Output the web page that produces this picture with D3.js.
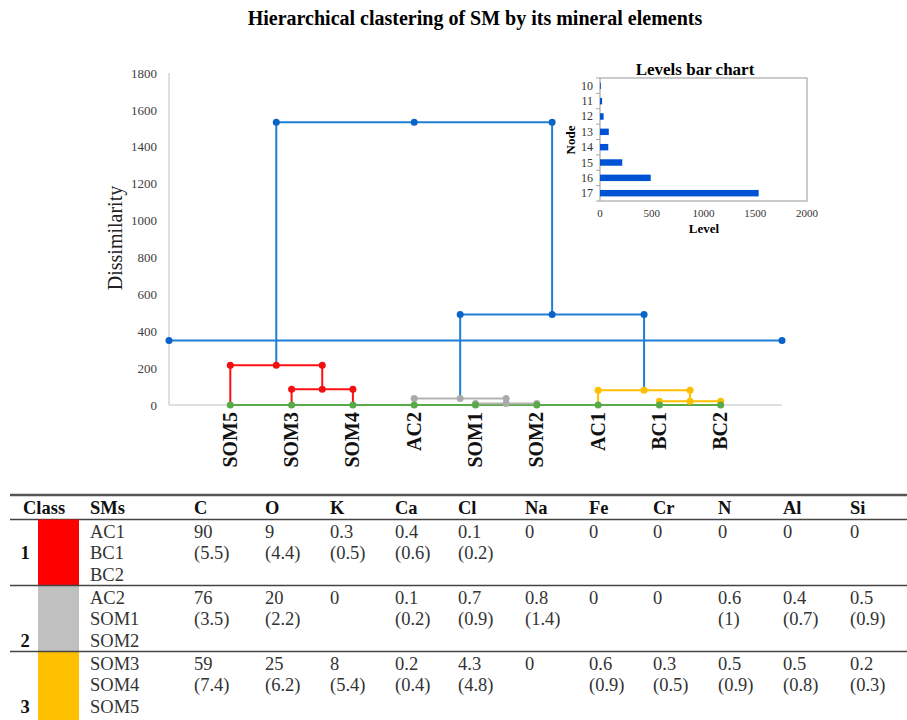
<!DOCTYPE html>
<html>
<head>
<meta charset="utf-8">
<script src="https://cdn.jsdelivr.net/npm/d3@7"></script>
<style>
  body { margin: 0; background: #fff; }
  svg { font-family: "Liberation Serif", "Times New Roman", serif; }
</style>
</head>
<body>
<svg width="907" height="720"></svg>
<script>
// leaves of the dendrogram, left to right
const leaves = ["SOM5", "SOM3", "SOM4", "AC2", "SOM1", "SOM2", "AC1", "BC1", "BC2"];
// merge nodes (id, level, children, colour group)
const nodeIds = [10, 11, 12, 13, 14, 15, 16, 17];
const nodeLevels = [8, 20, 35, 85, 80, 215, 490, 1533];
const nodeChildren = [["SOM1", "SOM2"], ["BC1", "BC2"], ["AC2", 10], ["SOM3", "SOM4"],
                      ["AC1", 11], ["SOM5", 13], [12, 14], [15, 16]];
const nodeGroups = ["gray", "yellow", "gray", "red", "yellow", "red", "blue", "blue"];
const cutLevel = 350;
const yTicks = [0, 200, 400, 600, 800, 1000, 1200, 1400, 1600, 1800];
const levelTicks = [0, 500, 1000, 1500, 2000];

// table
const tableHeaders = ["Class", "SMs", "C", "O", "K", "Ca", "Cl", "Na", "Fe", "Cr", "N", "Al", "Si"];
const classIds = ["1", "2", "3"];
const classMembers = [["AC1", "BC1", "BC2"], ["AC2", "SOM1", "SOM2"], ["SOM3", "SOM4", "SOM5"]];
const classMeans = [
  ["90", "9", "0.3", "0.4", "0.1", "0", "0", "0", "0", "0", "0"],
  ["76", "20", "0", "0.1", "0.7", "0.8", "0", "0", "0.6", "0.4", "0.5"],
  ["59", "25", "8", "0.2", "4.3", "0", "0.6", "0.3", "0.5", "0.5", "0.2"]
];
const classSds = [
  ["5.5", "4.4", "0.5", "0.6", "0.2", "", "", "", "", "", ""],
  ["3.5", "2.2", "", "0.2", "0.9", "1.4", "", "", "1", "0.7", "0.9"],
  ["7.4", "6.2", "5.4", "0.4", "4.8", "", "0.9", "0.5", "0.9", "0.8", "0.3"]
];

const lineColor = {blue: "#1f7fd6", red: "#ff1010", gray: "#b4b4b4", yellow: "#ffc000"};
const dotColor = {blue: "#0a63c6", red: "#f01010", gray: "#aaaaaa", yellow: "#ffbe00"};
const classColors = ["#ff0000", "#c0c0c0", "#ffc000"];
const green = "#58aa48";

const svg = d3.select("svg");

// title
svg.append("text")
  .attr("x", 475).attr("y", 25)
  .attr("text-anchor", "middle")
  .attr("font-size", "20px").attr("font-weight", "bold")
  .text("Hierarchical clastering of SM by its mineral elements");

//dendrogram
const x = d3.scaleLinear().domain([0, 10]).range([169, 782]);
const y = d3.scaleLinear().domain([0, 1800]).range([405, 73]);

const g1 = svg.append("g");

// axis lines + labels
g1.append("line")
  .attr("x1", x(0)).attr("x2", x(0))
  .attr("y1", y(0)).attr("y2", y(1800))
  .attr("stroke", "#d4d4d4").attr("stroke-width", 1.5);
g1.append("line")
  .attr("x1", x(0)).attr("x2", x(10))
  .attr("y1", y(0)).attr("y2", y(0))
  .attr("stroke", "#d4d4d4").attr("stroke-width", 1.5);

const yAxis = g1.append("g")
  .attr("transform", `translate(${x(0)},0)`)
  .call(d3.axisLeft(y).tickValues(yTicks).tickFormat(d3.format("d")).tickSize(0).tickPadding(12));
yAxis.select(".domain").remove();
yAxis.selectAll("text")
  .attr("font-family", "Liberation Serif")
  .attr("font-size", "13px")
  .attr("fill", "#404040");

g1.append("text")
  .attr("transform", "translate(122,238) rotate(-90)")
  .attr("text-anchor", "middle")
  .attr("font-size", "20px")
  .attr("fill", "#222")
  .text("Dissimilarity");

// node positions
const pos = {};
leaves.forEach((l, i) => { pos[l] = {x: x(i + 1), h: 0}; });
nodeIds.forEach((id, i) => {
  const a = pos[nodeChildren[i][0]], b = pos[nodeChildren[i][1]];
  pos[id] = {x: (a.x + b.x) / 2, h: nodeLevels[i]};
});

// green baseline
g1.append("line")
  .attr("x1", pos[leaves[0]].x).attr("x2", pos[leaves[leaves.length - 1]].x)
  .attr("y1", y(0)).attr("y2", y(0))
  .attr("stroke", green).attr("stroke-width", 2);

// links
nodeIds.forEach((id, i) => {
  const a = pos[nodeChildren[i][0]], b = pos[nodeChildren[i][1]];
  const h = y(nodeLevels[i]);
  g1.append("path")
    .attr("d", `M${a.x},${y(a.h)}V${h}H${b.x}V${y(b.h)}`)
    .attr("fill", "none")
    .attr("stroke", lineColor[nodeGroups[i]])
    .attr("stroke-width", 2);
});

// cut line
g1.append("line")
  .attr("x1", x(0)).attr("x2", x(10))
  .attr("y1", y(cutLevel)).attr("y2", y(cutLevel))
  .attr("stroke", lineColor.blue).attr("stroke-width", 2);
[x(0), x(10)].forEach(cx => {
  g1.append("circle").attr("cx", cx).attr("cy", y(cutLevel)).attr("r", 3.5).attr("fill", dotColor.blue);
});

// node dots
nodeIds.forEach((id, i) => {
  const a = pos[nodeChildren[i][0]], b = pos[nodeChildren[i][1]];
  [a.x, pos[id].x, b.x].forEach(cx => {
    g1.append("circle")
      .attr("cx", cx).attr("cy", y(nodeLevels[i])).attr("r", 3.5)
      .attr("fill", dotColor[nodeGroups[i]]);
  });
});

// leaf dots + labels
leaves.forEach(l => {
  g1.append("circle").attr("cx", pos[l].x).attr("cy", y(0)).attr("r", 3.5).attr("fill", green);
  g1.append("text")
    .attr("transform", `translate(${pos[l].x + 6.5},412) rotate(-90)`)
    .attr("text-anchor", "end")
    .attr("font-size", "20px").attr("font-weight", "bold")
    .attr("fill", "#111")
    .text(l);
});

//inset bar chart
const bx = d3.scaleLinear().domain([0, 2000]).range([600, 807]);
const by = d3.scaleBand().domain(nodeIds).range([78, 201]).paddingInner(0.58).paddingOuter(0.3);
const g2 = svg.append("g");

g2.append("rect")
  .attr("x", 600).attr("y", 78).attr("width", 207).attr("height", 123)
  .attr("fill", "#fff").attr("stroke", "#a8a8a8").attr("stroke-width", 1.2);

const step = 123 / nodeIds.length;
d3.range(nodeIds.length + 1).forEach(k => {
  g2.append("line")
    .attr("x1", 596).attr("x2", 600)
    .attr("y1", 78 + k * step).attr("y2", 78 + k * step)
    .attr("stroke", "#a8a8a8");
});

g2.selectAll(".bar").data(nodeIds).enter().append("rect")
  .attr("x", bx(0))
  .attr("y", d => by(d))
  .attr("width", (d, i) => bx(nodeLevels[i]) - bx(0))
  .attr("height", by.bandwidth())
  .attr("fill", "#0052d4");

g2.selectAll(".ylab").data(nodeIds).enter().append("text")
  .attr("x", 593)
  .attr("y", d => by(d) + by.bandwidth() / 2 + 4)
  .attr("text-anchor", "end")
  .attr("font-size", "12px").attr("fill", "#333")
  .text(d => d);

g2.selectAll(".xlab").data(levelTicks).enter().append("text")
  .attr("x", d => bx(d))
  .attr("y", 217)
  .attr("text-anchor", "middle")
  .attr("font-size", "11px").attr("fill", "#333")
  .text(d => d);

g2.append("text")
  .attr("x", 695).attr("y", 75)
  .attr("text-anchor", "middle")
  .attr("font-size", "17px").attr("font-weight", "bold")
  .text("Levels bar chart");
g2.append("text")
  .attr("x", 704).attr("y", 233)
  .attr("text-anchor", "middle")
  .attr("font-size", "13px").attr("font-weight", "bold")
  .text("Level");
g2.append("text")
  .attr("transform", "translate(575,140) rotate(-90)")
  .attr("text-anchor", "middle")
  .attr("font-size", "13px").attr("font-weight", "bold")
  .text("Node");

//table
const colX = [23, 90, 194, 265, 330, 395, 458, 525, 589, 653, 718, 783, 850];
const rowTop = [519.5, 585.5, 651.5];
const firstLine = 18.5, lineGap = 21.3;
const g3 = svg.append("g").attr("font-size", "18.5px");

g3.append("line").attr("x1", 10).attr("x2", 907).attr("y1", 495).attr("y2", 495)
  .attr("stroke", "#555").attr("stroke-width", 2.5);
g3.append("line").attr("x1", 10).attr("x2", 907).attr("y1", 519.5).attr("y2", 519.5)
  .attr("stroke", "#444").attr("stroke-width", 1.5);

tableHeaders.forEach((h, j) => {
  g3.append("text").attr("x", colX[j]).attr("y", 514)
    .attr("font-weight", "bold").attr("fill", "#111").text(h);
});

classIds.forEach((c, i) => {
  const top = rowTop[i];
  const bottom = i < classIds.length - 1 ? rowTop[i + 1] : 730;
  g3.append("rect")
    .attr("x", 38).attr("y", top).attr("width", 41).attr("height", bottom - top)
    .attr("fill", classColors[i]);
  if (i > 0) {
    g3.append("line").attr("x1", 10).attr("x2", 907).attr("y1", top).attr("y2", top)
      .attr("stroke", "#444").attr("stroke-width", 1.5);
  }
  const numLine = i === 0 ? 1 : 2;
  g3.append("text")
    .attr("x", 25).attr("y", top + firstLine + numLine * lineGap)
    .attr("text-anchor", "middle")
    .attr("font-weight", "bold").attr("fill", "#111")
    .text(c);
  classMembers[i].forEach((m, k) => {
    g3.append("text").attr("x", colX[1]).attr("y", top + firstLine + k * lineGap)
      .attr("fill", "#333").text(m);
  });
  classMeans[i].forEach((v, j) => {
    g3.append("text").attr("x", colX[j + 2]).attr("y", top + firstLine)
      .attr("fill", "#333").text(v);
    if (classSds[i][j] !== "") {
      g3.append("text").attr("x", colX[j + 2]).attr("y", top + firstLine + lineGap)
        .attr("fill", "#333").text(`(${classSds[i][j]})`);
    }
  });
});
</script>
</body>
</html>
